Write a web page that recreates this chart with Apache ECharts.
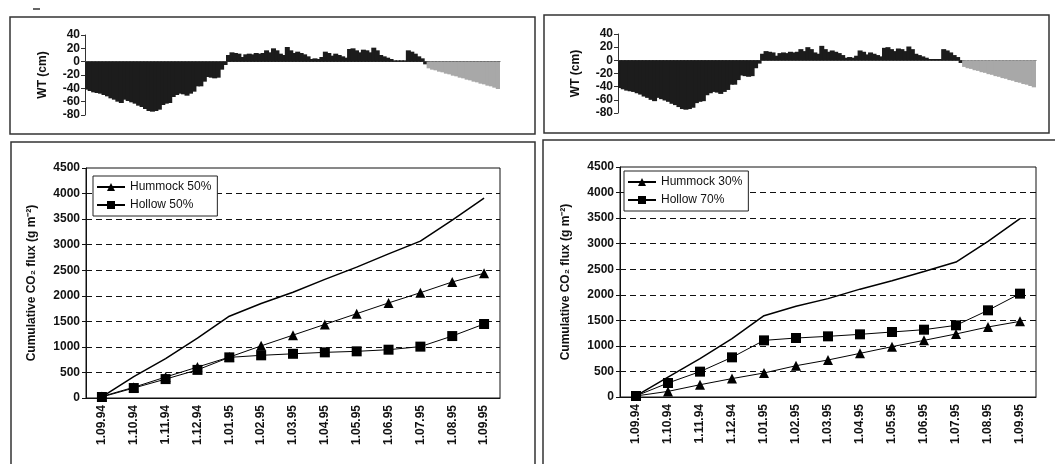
<!DOCTYPE html>
<html><head><meta charset="utf-8">
<script src="https://cdn.jsdelivr.net/npm/echarts@6/dist/echarts.min.js"></script>
<style>html,body{margin:0;padding:0;background:#fff}#c{width:1055px;height:464px}</style>
</head><body><div id="c"></div>
<script>
// ---- data ----
const months = ['1.09.94','1.10.94','1.11.94','1.12.94','1.01.95','1.02.95','1.03.95','1.04.95','1.05.95','1.06.95','1.07.95','1.08.95','1.09.95'];
// left panel
const totalA   = [20, 420, 770, 1170, 1600, 1850, 2070, 2320, 2560, 2820, 3070, 3480, 3910];
const hummock50 = [30, 210, 410, 605, 800, 1020, 1230, 1440, 1650, 1860, 2060, 2270, 2440];
const hollow50  = [20, 195, 370, 550, 795, 835, 865, 893, 913, 945, 1005, 1212, 1448];
// right panel
const totalB   = [20, 390, 750, 1140, 1590, 1775, 1925, 2110, 2275, 2455, 2640, 3045, 3490];
const hummock30 = [20, 110, 240, 360, 470, 612, 724, 854, 985, 1108, 1233, 1370, 1480];
const hollow70  = [20, 274, 496, 776, 1108, 1154, 1187, 1226, 1272, 1317, 1402, 1696, 2022];
// water table (cm), ~3-day steps over one year
const wtObserved = [-42,-44,-46,-47,-48,-50,-52,-55,-57,-60,
  -62,-57,-59,-61,-63,-66,-68,-71,-74,-75,
  -74,-72,-65,-63,-62,-53,-50,-48,-49,-51,
  -48,-45,-37,-37,-30,-23,-24,-25,-24,-12,
  -5,10,14,13,12,7,11,12,11,13,
  12,13,17,14,20,17,12,10,22,17,
  13,15,13,11,8,4,5,4,7,15,
  13,9,12,10,8,6,19,20,17,14,
  18,17,14,21,17,10,8,6,4,2,
  2,2,2,17,15,12,8,5,-4];
const wtEstimated = [-10,-12,-13,-15,-16,-18,-19,-21,-22,-24,-25,-27,-28,-30,-31,-33,-34,-36,-37,-39,-41];

// ---- build ----
const FONT = 'Liberation Sans, Arial, sans-serif';
const nObs = wtObserved.length, nAll = nObs + wtEstimated.length;
const wtCats = []; for (let i = 0; i < nAll; i++) wtCats.push(String(i));
const wtBlack = wtObserved.concat(wtEstimated.map(() => null));
const wtGray = wtObserved.map(() => null).concat(wtEstimated);
const plain = v => String(v);

function wtX(gi){ return {gridIndex: gi, type:'category', data: wtCats, boundaryGap:true,
  axisLine:{onZero:true, lineStyle:{color:'#555', width:1}},
  axisTick:{interval:9, length:3, lineStyle:{color:'#555'}}, axisLabel:{show:false}}; }
function wtY(gi){ return {gridIndex: gi, type:'value', min:-80, max:40, interval:20,
  name:'WT (cm)', nameLocation:'middle', nameGap:36, nameRotate:90,
  nameTextStyle:{fontFamily:FONT, fontWeight:'bold', fontSize:12, color:'#111'},
  axisLine:{show:true, lineStyle:{color:'#333'}}, axisTick:{show:true, length:4, lineStyle:{color:'#333'}},
  splitLine:{show:false},
  axisLabel:{formatter: plain, fontFamily:FONT, fontWeight:'bold', fontSize:12, color:'#111', margin:5}}; }
function coX(gi){ return {gridIndex: gi, type:'category', data: months, boundaryGap:true,
  axisLine:{lineStyle:{color:'#111'}}, axisTick:{length:4, lineStyle:{color:'#111'}},
  axisLabel:{rotate:90, fontFamily:FONT, fontWeight:'bold', fontSize:12, color:'#111', margin:7}}; }
function coY(gi){ return {gridIndex: gi, type:'value', min:0, max:4500, interval:500,
  name:'Cumulative CO\u2082 flux (g m\u207B\u00B2)', nameLocation:'middle', nameGap:48, nameRotate:90,
  nameTextStyle:{fontFamily:FONT, fontSize:12, fontWeight:'bold', color:'#111'},
  axisLine:{show:true, lineStyle:{color:'#111'}}, axisTick:{show:true, length:4, lineStyle:{color:'#111'}},
  splitLine:{show:true, showMinLine:false, showMaxLine:false, lineStyle:{color:'#111', type:[6,4], width:1}},
  axisLabel:{formatter: plain, fontFamily:FONT, fontWeight:'bold', fontSize:12, color:'#111', margin:6}}; }

function barS(gi, data, color){ return {type:'bar', xAxisIndex:gi, yAxisIndex:gi, data, barWidth:5, barGap:'-100%',
  itemStyle:{color}, silent:true, animation:false, z:1}; }
function lineS(gi, name, data, symbol, size, w){ return {type:'line', name, xAxisIndex:gi, yAxisIndex:gi, data,
  symbol, symbolSize:size, showSymbol: symbol !== 'none', lineStyle:{color:'#000', width:w}, itemStyle:{color:'#000'},
  z: symbol === 'none' ? 2 : 3, animation:false}; }

function legend(names, left, top){ return {data: names, orient:'vertical', left, top,
  borderColor:'#222', borderWidth:1, backgroundColor:'#fff', padding:[5,6,5,3], itemGap:6,
  itemWidth:28, itemHeight:10, textStyle:{fontFamily:FONT, fontSize:12, color:'#111'}}; }

const option = {
  backgroundColor:'#fff',
  animation:false,
  grid:[
    {left:85, top:35, width:415, height:80},
    {left:618, top:34, width:418, height:79},
    {left:86, top:168, width:414, height:230, show:true, borderColor:'#111', borderWidth:1},
    {left:620, top:167, width:416, height:230, show:true, borderColor:'#111', borderWidth:1}
  ],
  xAxis:[wtX(0), wtX(1), coX(2), coX(3)],
  yAxis:[wtY(0), wtY(1), coY(2), coY(3)],
  legend:[legend(['Hummock 50%','Hollow 50%'], 93, 176), legend(['Hummock 30%','Hollow 70%'], 624, 171)],
  series:[
    barS(0, wtBlack, '#1c1c1c'), barS(0, wtGray, '#a8a8a8'),
    barS(1, wtBlack, '#1c1c1c'), barS(1, wtGray, '#a8a8a8'),
    lineS(2, 'Total A', totalA, 'none', 0, 1.5),
    lineS(2, 'Hummock 50%', hummock50, 'triangle', 10, 1),
    lineS(2, 'Hollow 50%', hollow50, 'rect', 10, 1),
    lineS(3, 'Total B', totalB, 'none', 0, 1.5),
    lineS(3, 'Hummock 30%', hummock30, 'triangle', 10, 1),
    lineS(3, 'Hollow 70%', hollow70, 'rect', 10, 1)
  ],
  graphic:[
    {type:'rect', shape:{x:10, y:17, width:525, height:117}, style:{fill:null, stroke:'#333', lineWidth:1.5}, silent:true},
    {type:'rect', shape:{x:11, y:142, width:524, height:340}, style:{fill:null, stroke:'#333', lineWidth:1.5}, silent:true},
    {type:'rect', shape:{x:544, y:15, width:505, height:118}, style:{fill:null, stroke:'#333', lineWidth:1.5}, silent:true},
    {type:'rect', shape:{x:543, y:140, width:520, height:340}, style:{fill:null, stroke:'#333', lineWidth:1.5}, silent:true},
    {type:'line', shape:{x1:33, y1:9, x2:40, y2:9}, style:{stroke:'#333', lineWidth:1.5}, silent:true}
  ]
};
const chart = echarts.init(document.getElementById('c'), null, {renderer:'canvas'});
chart.setOption(option);
</script></body></html>
